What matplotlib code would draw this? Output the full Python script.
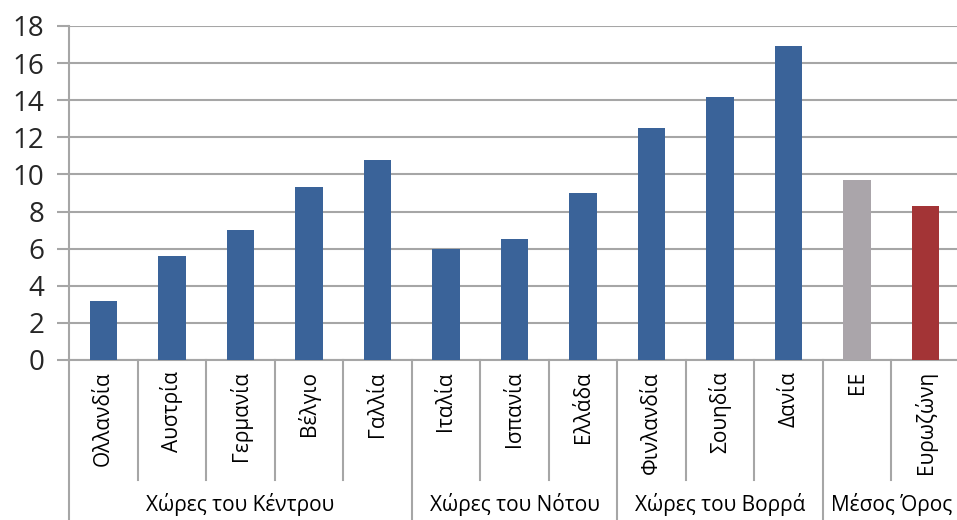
import matplotlib.pyplot as plt
from matplotlib import transforms

plt.rcParams['font.family'] = ['Open Sans', 'DejaVu Sans']

# data
countries = ['Ολλανδία', 'Αυστρία', 'Γερμανία', 'Βέλγιο', 'Γαλλία',
             'Ιταλία', 'Ισπανία', 'Ελλάδα',
             'Φινλανδία', 'Σουηδία', 'Δανία',
             'ΕΕ', 'Ευρωζώνη']
values = [3.2, 5.6, 7.0, 9.3, 10.8,
          6.0, 6.5, 9.0,
          12.5, 14.2, 16.9,
          9.7, 8.3]
groups = ['Χώρες του Κέντρου', 'Χώρες του Νότου', 'Χώρες του Βορρά', 'Μέσος Όρος']
group_sizes = [5, 3, 3, 2]

blue = '#3a6399'
colors = [blue] * 11 + ['#aaa5aa', '#a33436']
line_col = '#a6a6a6'

fig = plt.figure(figsize=(9.57, 5.2), dpi=100)
ax = fig.add_axes([69 / 957, 1 - 360 / 520, 891 / 957, 334 / 520])

x = range(len(countries))
ax.bar(x, values, width=0.4, color=colors, zorder=3)

ax.set_xlim(-0.5, len(countries) - 0.5)
ax.set_ylim(0, 18)
ax.set_yticks(range(0, 19, 2))
ax.tick_params(axis='y', labelsize=20, length=9, width=1.5, color=line_col,
               labelcolor='#262626', pad=9)
ax.yaxis.grid(True, color=line_col, linewidth=1.5, zorder=0)

ax.set_xticks(list(x))
ax.set_xticklabels(countries, rotation=90, va='top', ha='center', fontsize=15)
ax.tick_params(axis='x', length=0, pad=8)

for side in ['top', 'right']:
    ax.spines[side].set_visible(False)
for side in ['left', 'bottom']:
    ax.spines[side].set_color(line_col)
    ax.spines[side].set_linewidth(1.5)

# category separators below the axis
trans = transforms.blended_transform_factory(ax.transData, ax.transAxes)
bounds = [-0.5]
for n in group_sizes:
    bounds.append(bounds[-1] + n)
for i in range(len(countries)):
    b = i - 0.5
    depth = -0.5 if b in bounds else -120 / 334
    ax.plot([b, b], [0, depth], color=line_col, linewidth=1.5,
            transform=trans, clip_on=False)

for g, lo, hi in zip(groups, bounds[:-1], bounds[1:]):
    ax.text((lo + hi) / 2, -145 / 334, g, transform=trans, ha='center',
            va='center', fontsize=15)

fig.savefig('out.png', dpi=100)
